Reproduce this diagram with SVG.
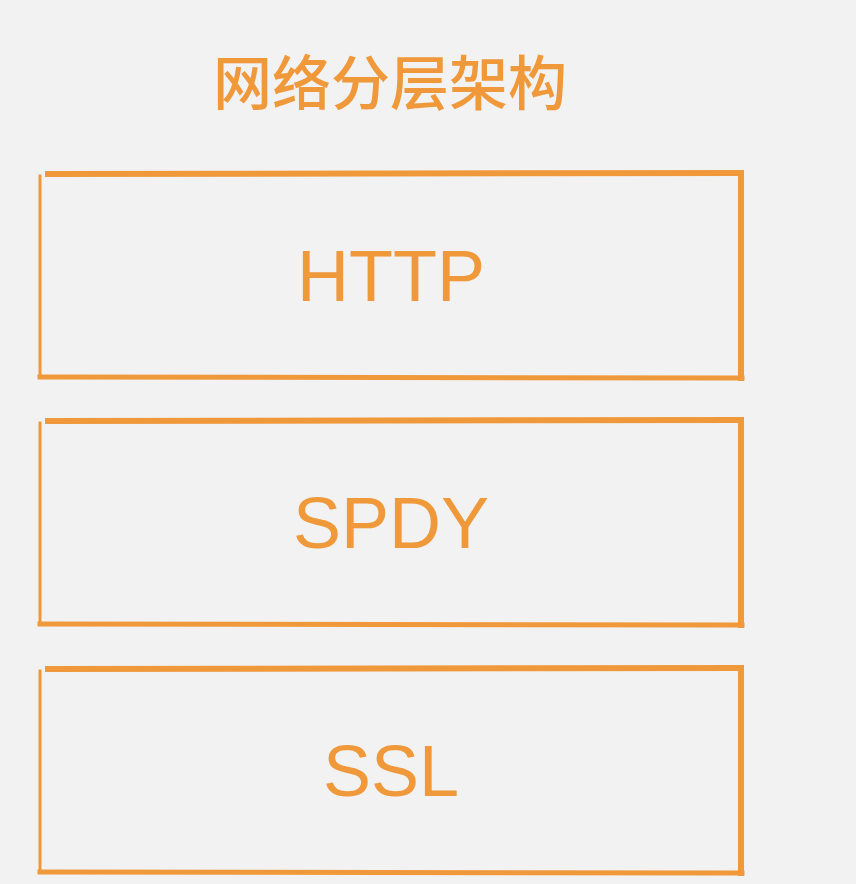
<svg xmlns="http://www.w3.org/2000/svg" width="864" height="884" viewBox="0 0 864 884">
<style>
.bg{fill:#f2f2f2}
.edge{fill:none;stroke:#f0993a;stroke-linecap:square}
.lbl{font-family:"Liberation Sans","Noto Sans",Arial,sans-serif;font-size:72px;fill:#f0993a;text-anchor:middle}
.title{font-family:"Noto Sans CJK SC","Noto Sans",sans-serif;font-size:59px;font-weight:500;fill:#f0993a;text-anchor:middle}
</style>
<defs>
<g id="box">
<path class="edge" d="M48,2 L741,1" stroke-width="6"/>
<path class="edge" d="M40,4 L40,205" stroke-width="3"/>
<path class="edge" d="M40,205 L742,206" stroke-width="5"/>
<path class="edge" d="M741,1 L741,206" stroke-width="6"/>
</g>
</defs>
<rect class="bg" x="0" y="0" width="856" height="884"/>
<rect x="856" y="0" width="8" height="884" fill="#ffffff"/>
<text class="title" x="390" y="105">网络分层架构</text>
<g id="node-http">
<use href="#box" y="172"/>
<text class="lbl" x="391" y="301">HTTP</text>
</g>
<g id="node-spdy">
<use href="#box" y="419"/>
<text class="lbl" x="391" y="548">SPDY</text>
</g>
<g id="node-ssl">
<use href="#box" y="667"/>
<text class="lbl" x="391" y="796">SSL</text>
</g>
<g id="connectors"/>
</svg>
